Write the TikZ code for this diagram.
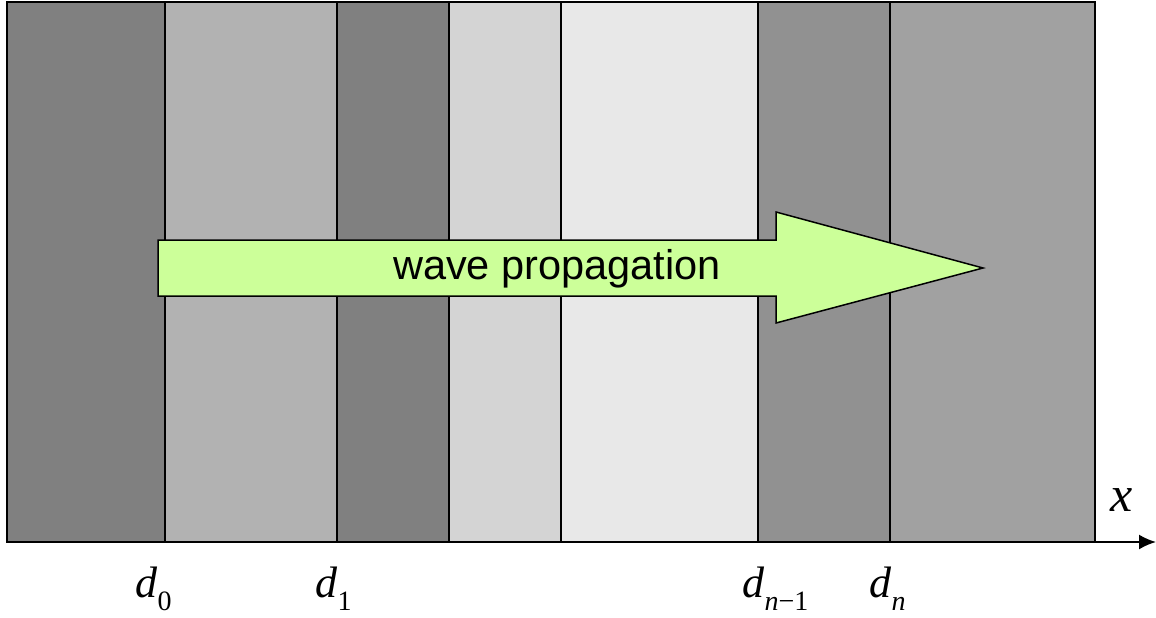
\documentclass[tikz,border=0pt]{standalone}
\usepackage{fontspec}
\usetikzlibrary{arrows.meta}
\setmainfont{Liberation Serif}
\newfontfamily\arialfont{Liberation Sans}
\begin{document}
\begin{tikzpicture}[x=1pt,y=-1pt,
  layer/.style={draw=black,line width=1.5pt},
  lab/.style={anchor=base west,inner sep=0pt,font=\fontsize{44}{48}\selectfont\itshape},
  sub/.style={anchor=base west,inner sep=0pt,font=\fontsize{28}{30}\selectfont}]
\useasboundingbox (0,0) rectangle (1156,618);
% layers
\fill[fill=white] (0,0) rectangle (1156,618);
\filldraw[layer,fill=black!50] (7,2) rectangle (165,542);
\filldraw[layer,fill=black!30] (165,2) rectangle (337,542);
\filldraw[layer,fill=black!50] (337,2) rectangle (449,542);
\filldraw[layer,fill=black!17] (449,2) rectangle (561,542);
\filldraw[layer,fill=black!9] (561,2) rectangle (758,542);
\filldraw[layer,fill=black!43] (758,2) rectangle (890,542);
\filldraw[layer,fill=black!37] (890,2) rectangle (1095,542);
% axis
\coordinate (ax0) at (1095,542);
\coordinate (ax1) at (1156,542);
\draw[line width=2pt,-{Latex[length=17pt,width=15pt]}] (ax0) -- (ax1);
% propagation arrow
\filldraw[draw=black,line width=1.5pt,fill={rgb,255:red,204;green,255;blue,153}]
  (158,240) -- (776,240) -- (776,212) -- (983,268) -- (776,323) -- (776,296) -- (158,296) -- cycle;
\node[font=\arialfont\fontsize{41.5}{46}\selectfont,anchor=base,inner sep=0pt] (wave) at (557,279) {wave propagation};
% labels
\node[lab] (d0) at (135,597) {d};
\node[sub] (d0s) at (d0.base east) [yshift=-13pt] {0};
\node[lab] (d1) at (315,597) {d};
\node[sub] (d1s) at (d1.base east) [yshift=-13pt] {1};
\node[lab] (dn1) at (742,597) {d};
\node[sub] (dn1s) at (dn1.base east) [yshift=-13pt] {\textit{n}−1};
\node[lab] (dn) at (869,597) {d};
\node[sub] (dns) at (dn.base east) [yshift=-13pt] {\textit{n}};
\node[anchor=base west,inner sep=0pt,font=\fontsize{50}{54}\selectfont\itshape] (xl) at (1110,511) {x};
\end{tikzpicture}
\end{document}
